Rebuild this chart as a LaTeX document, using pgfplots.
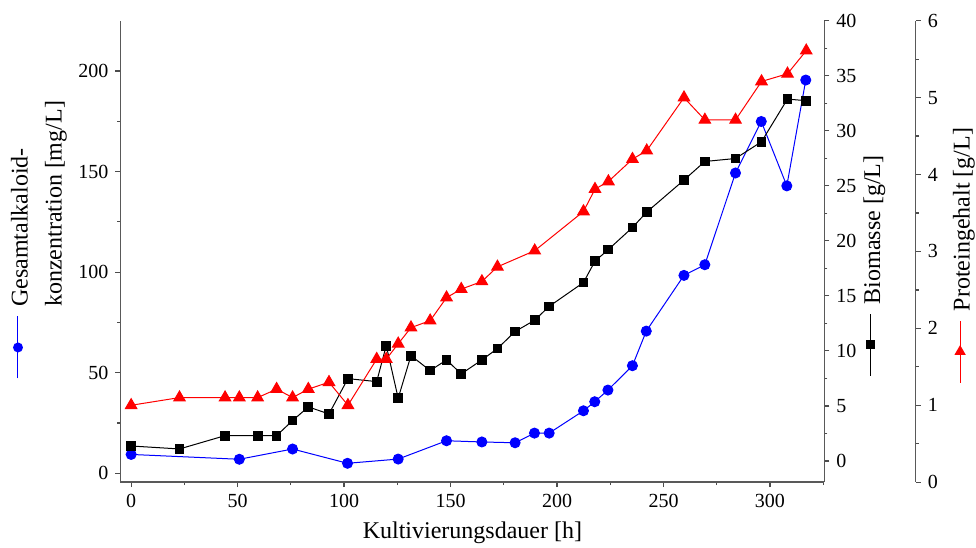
\documentclass[border=0pt]{standalone}
\usepackage{fontspec}
\setmainfont{Liberation Serif}
\usepackage{pgfplots}
\pgfplotsset{compat=1.18}

\newcommand{\symline}[2]{\tikz[baseline={(0,-4.8pt)}]{\draw[#1, line width=0.5pt] (0,0) -- (31pt,0); #2}}
\newcommand{\symA}{\symline{blue}{\fill[blue] (15.5pt,0) circle (2.5pt);}}
\newcommand{\symB}{\symline{black}{\fill[black] (13.3pt,-2.2pt) rectangle (17.7pt,2.2pt);}}
\newcommand{\symC}{\symline{red}{\fill[red] (18.8pt,0) -- (13.85pt,2.86pt) -- (13.85pt,-2.86pt) -- cycle;}}

\pgfplotsset{
 base/.style={
  scale only axis, width=351.9pt, height=230.75pt,
  xmin=-5, xmax=325.5,
  /pgf/number format/assume math mode=true,
  tick label style={font=\fontsize{10}{12}\selectfont},
  label style={font=\fontsize{12}{14}\selectfont},
  tick align=outside,
  major tick length=2.5pt, minor tick length=1.5pt,
  every tick/.style={black!70, line width=0.6pt},
  axis line style={black!65, line width=0.75pt},
 }
}

\begin{document}
\begin{tikzpicture}
\begin{axis}[base, at={(0,0)}, anchor=south west,
  axis x line*=bottom, axis y line*=left,
  ymin=-4.4, ymax=225,
  xtick={0,50,...,300}, minor xtick={25,75,...,325},
  ytick={0,50,...,200}, minor ytick={25,75,...,175},
  xlabel={Kultivierungsdauer [h]},
  ylabel={\begin{tabular}{@{}l@{\hspace{4.5pt}}l@{}}\symA & Gesamtalkaloid-\\[3pt] & konzentration [mg/L]\end{tabular}},
  ylabel style={at={(axis description cs:-0.1158,0.5248)}, anchor=center},
]
\addplot[blue, line width=0.5pt, mark=*, mark size=2.5pt, mark options={solid}] coordinates {
(0,9.4) (50.8,7.0) (75.8,12.1) (101.6,5.0) (125.4,7.1) (148.1,16.2) (164.7,15.6)
(180.3,15.2) (189.4,20.0) (196.3,20.0) (212.4,31.1) (217.7,35.6) (223.9,41.4)
(235.4,53.5) (241.9,70.7) (259.6,98.4) (269.4,103.7) (283.8,149.3) (295.9,174.9)
(307.9,142.9) (316.8,195.5)};
\end{axis}

\begin{axis}[base, at={(0,0)}, anchor=south west,
  hide x axis, axis y line*=right,
  ymin=-1.93, ymax=40,
  ytick={0,5,...,40}, minor ytick={2.5,7.5,...,37.5},
  ylabel={\symB\hspace{4.5pt}Biomasse [g/L]},
  ylabel style={at={(axis description cs:1.0713,0.4685)}, anchor=center},
]
\addplot[black, line width=0.5pt, mark=square*, mark size=2.2pt, mark options={solid}] coordinates {
(0,1.36) (22.7,1.09) (44.1,2.30) (59.4,2.30) (68.3,2.30) (75.8,3.67) (83.2,4.91)
(92.9,4.27) (101.8,7.48) (115.3,7.21) (119.8,10.48) (125.4,5.70) (131.4,9.57)
(140.4,8.21) (148.1,9.18) (155.0,7.91) (164.7,9.18) (172.0,10.21) (180.3,11.76)
(189.5,12.79) (196.2,14.03) (212.4,16.21) (217.8,18.15) (224.1,19.21) (235.4,21.21)
(242.1,22.61) (259.6,25.52) (269.4,27.21) (283.8,27.48) (296.0,29.0) (308.2,32.88)
(317.0,32.73)};
\end{axis}

\begin{axis}[base, width=397.6pt, xmax=368.4, at={(0,0)}, anchor=south west,
  hide x axis, axis y line*=right,
  ymin=0, ymax=6,
  ytick={0,1,...,6}, minor ytick={0.5,1.5,...,5.5},
  ylabel={\symC\hspace{4.5pt}Proteingehalt [g/L]},
  ylabel style={at={(axis description cs:1.0607,0.4912)}, anchor=center},
]
\addplot[red, line width=0.5pt, mark=triangle*, mark size=3.3pt, mark options={solid}] coordinates {
(0,1.00) (22.7,1.10) (44.1,1.10) (50.8,1.10) (59.4,1.10) (68.3,1.21) (75.8,1.10)
(83.2,1.21) (92.9,1.30) (101.8,1.00) (115.3,1.60) (119.8,1.60) (125.4,1.80)
(131.4,2.01) (140.4,2.10) (148.1,2.40) (155.0,2.51) (164.7,2.61) (172.0,2.80)
(189.5,3.01) (212.4,3.52) (217.8,3.81) (224.1,3.91) (235.4,4.20) (242.1,4.31)
(259.6,5.00) (269.4,4.71) (283.8,4.71) (296.0,5.21) (308.2,5.31) (317.0,5.61)};
\end{axis}
\pgfresetboundingbox
\path[use as bounding box] (-60.25pt,-32.4pt) rectangle (427.75pt,241.1pt);
\end{tikzpicture}
\end{document}
